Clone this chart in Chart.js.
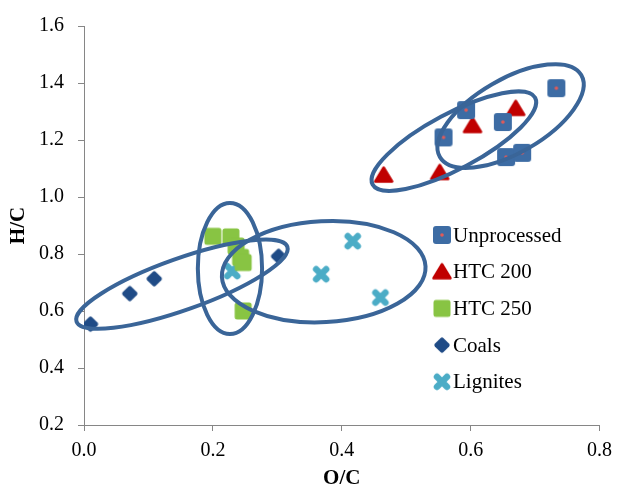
<!DOCTYPE html>
<html>
<head>
<meta charset="utf-8">
<script src="https://cdn.jsdelivr.net/npm/chart.js@4.4.0/dist/chart.umd.min.js"></script>
<style>
  html, body { margin: 0; padding: 0; background: #fff; }
  #wrap { width: 620px; height: 489px; }
</style>
</head>
<body>
<div id="wrap"><canvas id="c" width="620" height="489"></canvas></div>
<script>
// series, O/C on x, H/C on y
const seriesNames = ['Unprocessed', 'HTC 200', 'HTC 250', 'Coals', 'Lignites'];
const unprocessedOC = [0.733, 0.593, 0.650, 0.558, 0.655, 0.680];
const unprocessedHC = [1.382, 1.305, 1.263, 1.209, 1.140, 1.155];
const htc200OC = [0.670, 0.603, 0.465, 0.552];
const htc200HC = [1.311, 1.251, 1.077, 1.086];
const htc250OC = [0.200, 0.228, 0.236, 0.243, 0.247, 0.247];
const htc250HC = [0.862, 0.860, 0.828, 0.788, 0.770, 0.600];
const coalsOC = [0.010, 0.071, 0.109, 0.302];
const coalsHC = [0.554, 0.661, 0.713, 0.792];
const lignitesOC = [0.230, 0.368, 0.417, 0.460];
const lignitesHC = [0.740, 0.729, 0.845, 0.647];

// group outlines (data units): centre, half major axis, minor/major ratio
const ringCenterOC = [0.662, 0.574, 0.152, 0.2265, 0.372];
const ringCenterHC = [1.284, 1.196, 0.694, 0.749, 0.738];
const ringHalfOC   = [0.1097, 0.1261, 0.1636, 0.0, 0.158];
const ringHalfHC   = [0.1437, 0.1521, 0.1314, 0.230, 0.0188];
const ringRatio    = [0.45, 0.30, 0.23, 0.49, 0.495];

const fontFamily = "'Liberation Serif', 'Times New Roman', serif";

function marker(kind) {
  const c = document.createElement('canvas');
  c.width = 24; c.height = 24;
  const g = c.getContext('2d');
  g.translate(12, 12);
  if (kind === 'square') {
    g.fillStyle = '#3d6ca4';
    g.beginPath(); g.roundRect(-9, -9, 18, 18, 3); g.fill();
    g.fillStyle = '#e25b58';
    g.beginPath(); g.arc(0, 0, 1.8, 0, Math.PI * 2); g.fill();
  } else if (kind === 'triangle') {
    g.fillStyle = '#c00000'; g.strokeStyle = '#c00000';
    g.lineWidth = 2.5; g.lineJoin = 'round';
    g.beginPath(); g.moveTo(0, -7.5); g.lineTo(8.5, 6.5); g.lineTo(-8.5, 6.5); g.closePath();
    g.fill(); g.stroke();
  } else if (kind === 'green') {
    g.fillStyle = '#88c443';
    g.beginPath(); g.roundRect(-8.5, -8.5, 17, 17, 2.5); g.fill();
  } else if (kind === 'diamond') {
    g.fillStyle = '#1f4b86';
    g.rotate(Math.PI / 4);
    g.beginPath(); g.roundRect(-6, -6, 12, 12, 2); g.fill();
  } else {
    g.strokeStyle = '#4bacc6'; g.lineWidth = 6.5; g.lineCap = 'round';
    g.beginPath();
    g.moveTo(-5, -5); g.lineTo(5, 5);
    g.moveTo(5, -5); g.lineTo(-5, 5);
    g.stroke();
  }
  return c;
}

const markers = [marker('square'), marker('triangle'), marker('green'), marker('diamond'), marker('cross')];
const xs = [unprocessedOC, htc200OC, htc250OC, coalsOC, lignitesOC];
const ys = [unprocessedHC, htc200HC, htc250HC, coalsHC, lignitesHC];

const ringPlugin = {
  id: 'rings',
  afterDatasetsDraw(chart) {
    const {ctx, scales: {x, y}} = chart;
    ctx.save();
    ctx.strokeStyle = '#3a6598';
    ctx.lineWidth = 4;
    ringCenterOC.forEach((cx, i) => {
      const cy = ringCenterHC[i];
      const x1 = x.getPixelForValue(cx - ringHalfOC[i]), y1 = y.getPixelForValue(cy - ringHalfHC[i]);
      const x2 = x.getPixelForValue(cx + ringHalfOC[i]), y2 = y.getPixelForValue(cy + ringHalfHC[i]);
      const a = Math.hypot(x2 - x1, y2 - y1) / 2;
      const rot = Math.atan2(y2 - y1, x2 - x1);
      ctx.beginPath();
      ctx.ellipse((x1 + x2) / 2, (y1 + y2) / 2, a, a * ringRatio[i], rot, 0, Math.PI * 2);
      ctx.stroke();
    });
    ctx.restore();
  }
};

const legendPlugin = {
  id: 'insideLegend',
  afterDraw(chart, args, opts) {
    const ctx = chart.ctx;
    ctx.save();
    ctx.font = '21px ' + fontFamily;
    ctx.fillStyle = '#000';
    ctx.textBaseline = 'middle';
    ctx.textAlign = 'left';
    chart.data.datasets.forEach((ds, i) => {
      const yy = opts.top + i * opts.step;
      ctx.drawImage(markers[i], opts.left - 12, yy - 12);
      ctx.fillText(ds.label, opts.left + 11, yy + 1);
    });
    ctx.restore();
  }
};

new Chart(document.getElementById('c'), {
  type: 'scatter',
  data: {
    datasets: seriesNames.map((name, i) => ({
      label: name,
      data: xs[i].map((v, j) => ({x: v, y: ys[i][j]})),
      pointStyle: markers[i],
      pointRadius: 9,
      showLine: false
    }))
  },
  options: {
    responsive: false,
    animation: false,
    devicePixelRatio: 1,
    layout: { padding: { top: 23, right: 16, bottom: 0, left: 0 } },
    scales: {
      x: {
        type: 'linear', min: 0, max: 0.8,
        afterFit(scale) { scale.height = 64; },
        border: { color: '#868686', width: 1 },
        grid: { drawOnChartArea: false, drawTicks: true, tickLength: 6, color: '#868686' },
        ticks: {
          stepSize: 0.2, padding: 8, color: '#000',
          font: { family: fontFamily, size: 20 },
          callback: v => v.toFixed(1)
        },
        title: {
          display: true, text: 'O/C', color: '#000',
          font: { family: fontFamily, size: 21, weight: 'bold', lineHeight: 1 },
          padding: { top: 0, bottom: 0 }
        }
      },
      y: {
        type: 'linear', min: 0.2, max: 1.6,
        afterFit(scale) { scale.width = 84; },
        border: { color: '#868686', width: 1 },
        grid: { drawOnChartArea: false, drawTicks: true, tickLength: 6, color: '#868686' },
        ticks: {
          stepSize: 0.2, padding: 14, color: '#000',
          font: { family: fontFamily, size: 20 },
          callback: v => v.toFixed(1)
        },
        title: {
          display: true, text: 'H/C', color: '#000',
          font: { family: fontFamily, size: 21, weight: 'bold', lineHeight: 1 },
          padding: { top: 8, bottom: 0 }
        }
      }
    },
    plugins: {
      legend: { display: false },
      tooltip: { enabled: false },
      insideLegend: { left: 442, top: 235, step: 36.7 }
    }
  },
  plugins: [ringPlugin, legendPlugin]
});
</script>
</body>
</html>
